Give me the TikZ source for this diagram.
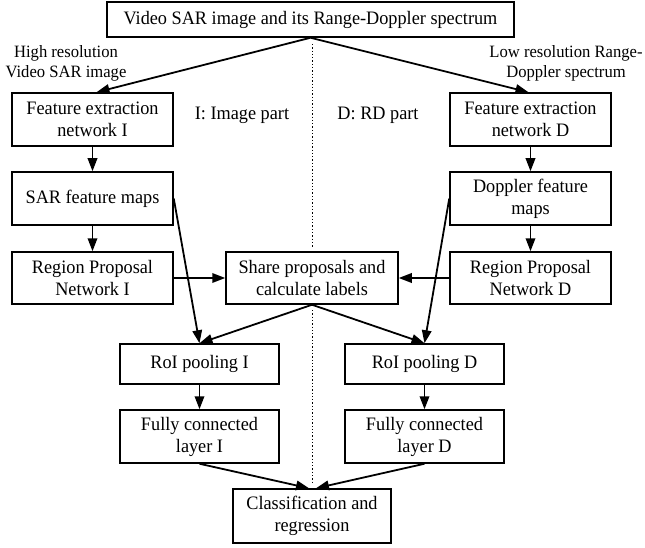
\documentclass[tikz,border=0pt]{standalone}
\usepackage{fontspec}
\setmainfont[FakeStretch=0.96]{Liberation Serif}
\usetikzlibrary{arrows.meta}
\begin{document}
\begin{tikzpicture}[x=1pt,y=-1pt,
  box/.style={draw,line width=1.5pt,align=center,inner sep=0pt,
    font=\fontsize{19}{22}\selectfont},
  lbl/.style={align=center,inner sep=0pt,font=\fontsize{17.3}{20}\selectfont},
  part/.style={align=center,inner sep=0pt,font=\fontsize{19}{22}\selectfont},
  arr/.style={line width=1.8pt,-{Triangle[length=13pt,width=9.5pt]}},
  dotline/.style={line width=1pt,dash pattern=on 1.3pt off 2pt}]
\useasboundingbox (0,0) rectangle (645,548);
\node[box,minimum width=407pt,minimum height=35pt] (top) at (310.5,19.5) {Video SAR image and its Range-Doppler spectrum};
\node[box,minimum width=161pt,minimum height=53pt] (feI) at (92.5,119.5) {Feature extraction\\network I};
\node[box,minimum width=161pt,minimum height=53pt] (feD) at (530.5,119.5) {Feature extraction\\network D};
\node[box,minimum width=161pt,minimum height=53pt] (sar) at (92.5,198.5) {SAR feature maps};
\node[box,minimum width=161pt,minimum height=53pt] (dop) at (530.5,198.5) {Doppler feature\\maps};
\node[box,minimum width=161pt,minimum height=52pt] (rpnI) at (92.5,278) {Region Proposal\\Network I};
\node[box,minimum width=161pt,minimum height=52pt] (rpnD) at (530.5,278) {Region Proposal\\Network D};
\node[box,minimum width=172pt,minimum height=52pt] (share) at (312,278) {Share proposals and\\calculate labels};
\node[box,minimum width=159pt,minimum height=40pt] (roiI) at (199.5,364) {RoI pooling I};
\node[box,minimum width=159pt,minimum height=40pt] (roiD) at (424.5,364) {RoI pooling D};
\node[box,minimum width=159pt,minimum height=53pt] (fcI) at (199.5,436.5) {Fully connected\\layer I};
\node[box,minimum width=159pt,minimum height=53pt] (fcD) at (424.5,436.5) {Fully connected\\layer D};
\node[box,minimum width=158pt,minimum height=54pt] (cls) at (312,516) {Classification and\\regression};
\node[lbl] (hi) at (66,63) {High resolution\\Video SAR image};
\node[lbl] (lo) at (566,63) {Low resolution Range-\\Doppler spectrum};
\node[part] (ip) at (242,115) {I: Image part};
\node[part] (dp) at (378,115) {D: RD part};
\coordinate (d1) at (312,44);
\coordinate (d2) at (312,248);
\coordinate (d3) at (312,310);
\coordinate (d4) at (312,483);
\draw[dotline] (d1) -- (d2);
\draw[dotline] (d3) -- (d4);
\draw[arr] (top.south) -- ([xshift=4pt]feI.north);
\draw[arr] (top.south) -- ([xshift=-2pt]feD.north);
\draw[arr] (feI) -- (sar);
\draw[arr] (feD) -- (dop);
\draw[arr] (sar) -- (rpnI);
\draw[arr] (dop) -- (rpnD);
\draw[arr] (rpnI) -- (share);
\draw[arr] (rpnD) -- (share);
\draw[arr] (sar.east) -- (roiI.north);
\draw[arr] (dop.west) -- (roiD.north);
\draw[arr] (share.south) -- (roiI.north);
\draw[arr] (share.south) -- (roiD.north);
\draw[arr] (roiI) -- (fcI);
\draw[arr] (roiD) -- (fcD);
\draw[arr] (fcI.south) -- ([xshift=-3pt]cls.north);
\draw[arr] (fcD.south) -- ([xshift=4pt]cls.north);
\end{tikzpicture}
\end{document}
